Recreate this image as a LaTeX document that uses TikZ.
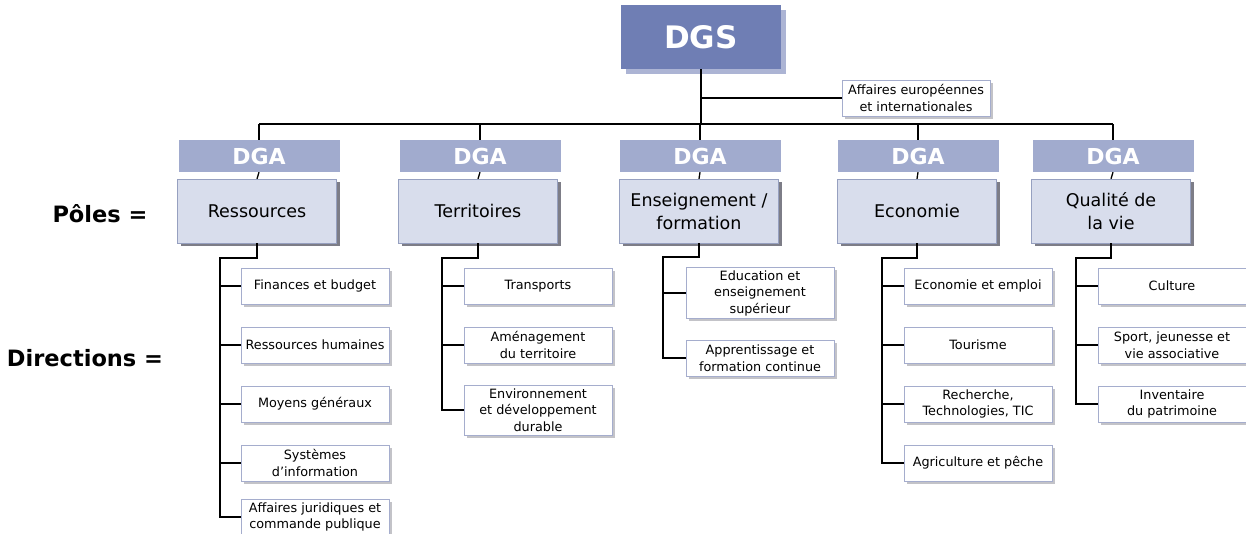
\documentclass[tikz,border=0pt]{standalone}
\usepackage{fontspec}
\setmainfont{DejaVu Sans}
\usetikzlibrary{shadows}

\definecolor{dgsfill}{RGB}{111,126,180}
\definecolor{dgsshade}{RGB}{172,180,212}
\definecolor{dgafill}{RGB}{161,171,206}
\definecolor{polefill}{RGB}{216,221,236}
\definecolor{poleline}{RGB}{150,160,192}
\definecolor{poleshade}{RGB}{125,125,135}
\definecolor{dirline}{RGB}{165,173,205}
\definecolor{dirshade}{RGB}{195,195,200}

\tikzset{
  dgsbox/.style={fill=dgsfill, text=white, minimum width=160pt, minimum height=64pt,
    font=\fontsize{31}{36}\selectfont\bfseries,
    drop shadow={shadow xshift=5pt, shadow yshift=-5pt, fill=dgsshade, opacity=1}},
  dgabox/.style={fill=dgafill, text=white, minimum width=161pt, minimum height=32pt,
    font=\fontsize{22}{26}\selectfont\bfseries},
  polebox/.style={draw=poleline, fill=polefill, minimum width=159pt, minimum height=64pt,
    align=center, font=\fontsize{17.5}{23}\selectfont,
    drop shadow={shadow xshift=3pt, shadow yshift=-3pt, fill=poleshade, opacity=1}},
  dirbox/.style={draw=dirline, fill=white, minimum width=148pt, minimum height=36pt,
    inner sep=1pt, align=center, font=\fontsize{12.8}{16.5}\selectfont,
    drop shadow={shadow xshift=2.5pt, shadow yshift=-2.5pt, fill=dirshade, opacity=1}},
  rowlabel/.style={font=\fontsize{22.5}{26}\selectfont\bfseries},
  tree/.style={line width=1.3pt}
}

\begin{document}
\begin{tikzpicture}[x=1pt,y=-1pt]
  \useasboundingbox (0,0) rectangle (1246,533);

  % top
  \node[dgsbox] (dgs) at (701,37) {DGS};
  \node[dirbox] (aei) at (916,98) {Affaires européennes\\et internationales};
  \coordinate (busL) at (259,124);
  \coordinate (busR) at (1113,124);

  % DGA and poles
  \node[dgabox] (dga1) at (259,156) {DGA};
  \node[dgabox] (dga2) at (480,156) {DGA};
  \node[dgabox] (dga3) at (700,156) {DGA};
  \node[dgabox] (dga4) at (918,156) {DGA};
  \node[dgabox] (dga5) at (1113,156) {DGA};

  \node[polebox] (pole1) at (257,211) {Ressources};
  \node[polebox] (pole2) at (478,211) {Territoires};
  \node[polebox] (pole3) at (699,211) {Enseignement /\\formation};
  \node[polebox] (pole4) at (917,211) {Economie};
  \node[polebox] (pole5) at (1111,211) {Qualité de\\la vie};

  \node[rowlabel] (lpole) at (100,214) {Pôles =};
  \node[rowlabel] (ldir) at (85,358) {Directions =};

  % directions
  \node[dirbox] (d11) at (315,286) {Finances et budget};
  \node[dirbox] (d12) at (315,345) {Ressources humaines};
  \node[dirbox] (d13) at (315,404) {Moyens généraux};
  \node[dirbox] (d14) at (315,463) {Systèmes\\d’information};
  \node[dirbox] (d15) at (315,517) {Affaires juridiques et\\commande publique};

  \node[dirbox] (d21) at (538,286) {Transports};
  \node[dirbox] (d22) at (538,345) {Aménagement\\du territoire};
  \node[dirbox, minimum height=50pt] (d23) at (538,410) {Environnement\\et développement\\durable};

  \node[dirbox, minimum height=51pt] (d31) at (760,293) {Education et\\enseignement\\supérieur};
  \node[dirbox] (d32) at (760,358) {Apprentissage et\\formation continue};

  \node[dirbox] (d41) at (978,286) {Economie et emploi};
  \node[dirbox] (d42) at (978,345) {Tourisme};
  \node[dirbox] (d43) at (978,404) {Recherche,\\Technologies, TIC};
  \node[dirbox] (d44) at (978,463) {Agriculture et pêche};

  \node[dirbox] (d51) at (1172,286) {Culture};
  \node[dirbox] (d52) at (1172,345) {Sport, jeunesse et\\vie associative};
  \node[dirbox] (d53) at (1172,404) {Inventaire\\du patrimoine};

  % rails
  \coordinate (r1) at (220,258);
  \coordinate (r2) at (442,258);
  \coordinate (r3) at (663,257);
  \coordinate (r4) at (882,258);
  \coordinate (r5) at (1076,258);

  % links
  \draw[tree] (dgs.south) -- (dgs.south |- busL);
  \draw[tree] (dgs.south |- aei.west) -- (aei.west);
  \draw[tree] (busL) -- (busR);
  \draw[tree] (busL) -- (dga1.north);
  \draw[tree] (dga2.north |- busL) -- (dga2.north);
  \draw[tree] (dga3.north |- busL) -- (dga3.north);
  \draw[tree] (dga4.north |- busL) -- (dga4.north);
  \draw[tree] (busR) -- (dga5.north);
  \foreach \i in {1,...,5}
    \draw[tree] (dga\i.south) -- (pole\i.north);

  \draw[tree] (pole1.south) |- (r1) |- (d15.west);
  \foreach \j in {1,...,4}
    \draw[tree] (r1 |- d1\j.west) -- (d1\j.west);
  \draw[tree] (pole2.south) |- (r2) |- (d23.west);
  \foreach \j in {1,2}
    \draw[tree] (r2 |- d2\j.west) -- (d2\j.west);
  \draw[tree] (pole3.south) |- (r3) |- (d32.west);
  \draw[tree] (r3 |- d31.west) -- (d31.west);
  \draw[tree] (pole4.south) |- (r4) |- (d44.west);
  \foreach \j in {1,2,3}
    \draw[tree] (r4 |- d4\j.west) -- (d4\j.west);
  \draw[tree] (pole5.south) |- (r5) |- (d53.west);
  \foreach \j in {1,2}
    \draw[tree] (r5 |- d5\j.west) -- (d5\j.west);
\end{tikzpicture}
\end{document}
